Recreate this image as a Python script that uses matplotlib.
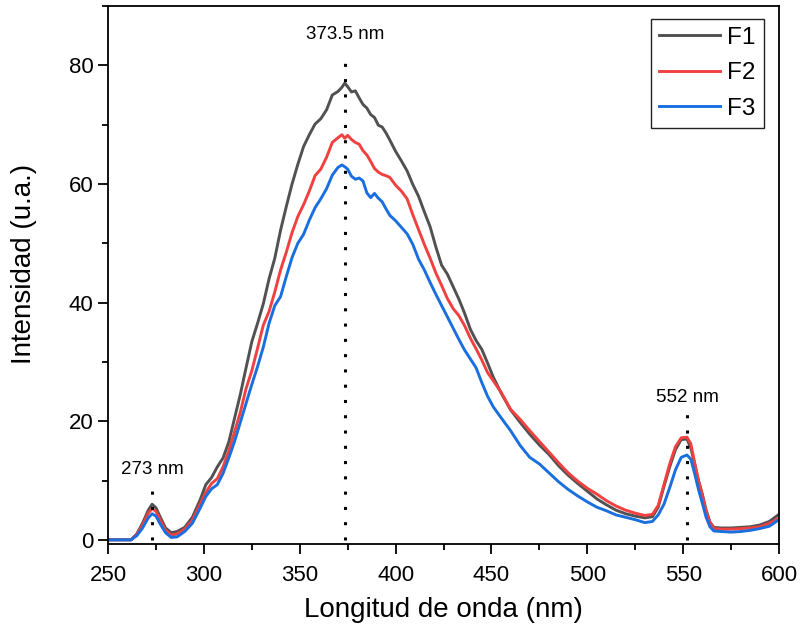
import numpy as np
import matplotlib.pyplot as plt
from matplotlib.ticker import MultipleLocator

# emission spectra F1, F2, F3

wl = [250, 262, 265, 268, 271, 273, 275, 277, 280, 283, 286, 290, 294, 298,
      301, 304, 307, 310, 313, 316, 319, 322, 325, 328, 331, 334, 337, 340,
      343, 346, 349, 352, 355, 358, 361, 364, 367, 370, 372, 373.5, 375, 377,
      379, 381, 383, 385, 387, 389, 391, 393, 395, 397, 400, 403, 406, 409,
      412, 415, 418, 421, 424, 427, 430, 433, 436, 439, 442, 445, 448, 451,
      455, 460, 465, 470, 475, 480, 485, 490, 495, 500, 505, 510, 515, 520,
      525, 530, 534, 537, 540, 543, 546, 549, 552, 554, 556, 558, 560, 562,
      564, 566, 570, 575, 580, 585, 590, 595, 600]

F1 = [0, 0, 1.0, 2.8, 5.0, 6.0, 5.4, 4.0, 2.0, 1.2, 1.4, 2.1, 3.8, 6.7,
      9.3, 10.5, 12.3, 13.8, 16.5, 20.5, 24.5, 29.0, 33.4, 36.5, 39.8, 44.0, 47.5, 52.2,
      56.2, 60.0, 63.3, 66.3, 68.3, 70.1, 71.0, 72.5, 75.0, 75.6, 76.3, 77.0, 76.4, 75.5,
      75.7, 74.5, 73.4, 72.8, 71.7, 71.2, 69.9, 69.6, 68.6, 67.4, 65.5, 63.9, 62.2, 59.9,
      57.9, 55.3, 52.8, 49.4, 46.3, 44.8, 42.7, 40.6, 38.2, 35.5, 33.6, 32.1, 29.8, 27.4,
      24.8, 21.9, 19.8, 17.8, 16.0, 14.4, 12.5, 10.9, 9.5, 8.2, 6.9, 5.9, 5.0, 4.4,
      4.0, 3.7, 3.9, 5.5, 9.0, 12.3, 15.2, 16.9, 17.0, 15.5, 12.8, 10.0, 7.7, 5.0,
      3.0, 2.1, 2.0, 2.0, 2.1, 2.2, 2.5, 3.1, 4.3]

F2 = [0, 0, 0.9, 2.5, 4.5, 5.3, 4.8, 3.5, 1.6, 0.8, 1.0, 1.8, 3.3, 6.0,
      8.0, 9.5, 10.3, 12.3, 15.0, 18.2, 21.5, 25.5, 28.5, 32.3, 36.2, 38.5, 41.8, 45.5,
      48.5, 51.8, 54.5, 56.5, 58.8, 61.4, 62.5, 64.5, 67.0, 67.8, 68.3, 67.7, 68.2, 67.5,
      67.0, 66.7, 65.6, 64.9, 63.8, 62.6, 62.0, 61.6, 61.4, 61.1, 59.8, 58.8, 57.5, 54.8,
      52.3, 49.8, 47.5, 45.0, 42.9, 40.7, 39.0, 37.8, 36.1, 34.0, 32.2, 30.3, 28.2, 26.8,
      24.9, 22.0, 20.3, 18.4, 16.6, 14.8, 13.0, 11.3, 9.9, 8.7, 7.7, 6.6, 5.7, 5.0,
      4.5, 4.1, 4.3, 5.8, 9.3, 12.8, 15.7, 17.2, 17.3, 16.2, 13.0, 10.0, 7.5, 4.8,
      2.8, 1.9, 1.8, 1.8, 1.9, 2.0, 2.2, 2.8, 3.6]

F3 = [0, 0, 0.7, 2.0, 3.7, 4.4, 4.0, 2.8, 1.2, 0.4, 0.5, 1.4, 2.8, 5.3,
      7.3, 8.6, 9.3, 11.2, 13.8, 16.6, 19.8, 23.0, 26.2, 29.2, 32.5, 36.5, 39.5, 41.0,
      44.4, 47.6, 50.0, 51.5, 53.9, 56.0, 57.5, 59.2, 61.5, 62.8, 63.2, 62.9, 62.5, 61.3,
      60.8, 61.0, 60.5, 58.5, 57.7, 58.4, 57.6, 57.0, 55.8, 54.7, 53.8, 52.7, 51.6, 49.8,
      47.3, 45.5, 43.4, 41.4, 39.5, 37.6, 35.7, 33.8, 32.0, 30.5, 29.0, 26.5, 24.2, 22.4,
      20.6, 18.4, 15.9, 13.9, 12.8, 11.3, 9.8, 8.5, 7.4, 6.4, 5.5, 4.9, 4.2, 3.8,
      3.4, 2.9, 3.1, 4.2, 6.0, 8.8, 11.8, 13.9, 14.3, 13.6, 11.2, 8.5, 6.2, 3.8,
      2.2, 1.5, 1.4, 1.3, 1.4, 1.6, 1.9, 2.3, 3.4]

series = ['F1', 'F2', 'F3']
colors = ['#515151', '#F14040', '#1A6FDF']

# peak markers: position, line top, label text, label height
peak_x = [273, 373.5, 552]
peak_top = [9, 82, 21.5]
peak_lbl = ['273 nm', '373.5 nm', '552 nm']
peak_lbl_y = [11.8, 85.2, 24.0]

# ================================================

plt.rcParams['font.family'] = ['Liberation Sans', 'DejaVu Sans']

fig = plt.figure(figsize=(8.02, 6.39), dpi=100)
ax = fig.add_axes([0.1347, 0.1487, 0.8366, 0.8419])

for name, y, c in zip(series, [F1, F2, F3], colors):
    ax.plot(wl, y, color=c, linewidth=2.1, label=name)

for px, top, lbl, ly in zip(peak_x, peak_top, peak_lbl, peak_lbl_y):
    ax.plot([px, px], [0, top], color='black', linewidth=2.2,
            linestyle=(0, (1, 4)), dash_capstyle='butt')
    ax.text(px, ly, lbl, ha='center', va='center', fontsize=13.5)

ax.set_xlim(250, 600)
ax.set_ylim(-0.7, 90)
ax.xaxis.set_major_locator(MultipleLocator(50))
ax.xaxis.set_minor_locator(MultipleLocator(25))
ax.yaxis.set_major_locator(MultipleLocator(20))
ax.yaxis.set_minor_locator(MultipleLocator(10))
ax.tick_params(which='major', direction='out', length=7, width=1.3, labelsize=16)
ax.tick_params(which='minor', direction='out', length=4, width=1.3)
ax.tick_params(axis='x', which='major', pad=8)
for s in ax.spines.values():
    s.set_linewidth(1.3)

ax.set_xlabel('Longitud de onda (nm)', fontsize=20, labelpad=8)
ax.set_ylabel('Intensidad (u.a.)', fontsize=20)
ax.yaxis.set_label_coords(-0.106, 0.52)

leg = ax.legend(loc='upper right', bbox_to_anchor=(0.9775, 0.976), borderaxespad=0,
                fontsize=17.5, handlelength=2.5, handletextpad=0.32, labelspacing=0.55,
                fancybox=False, framealpha=1, borderpad=0.33)
leg.get_frame().set_edgecolor('#222222')
leg.get_frame().set_linewidth(1.0)

fig.savefig('out.png', dpi=100)
